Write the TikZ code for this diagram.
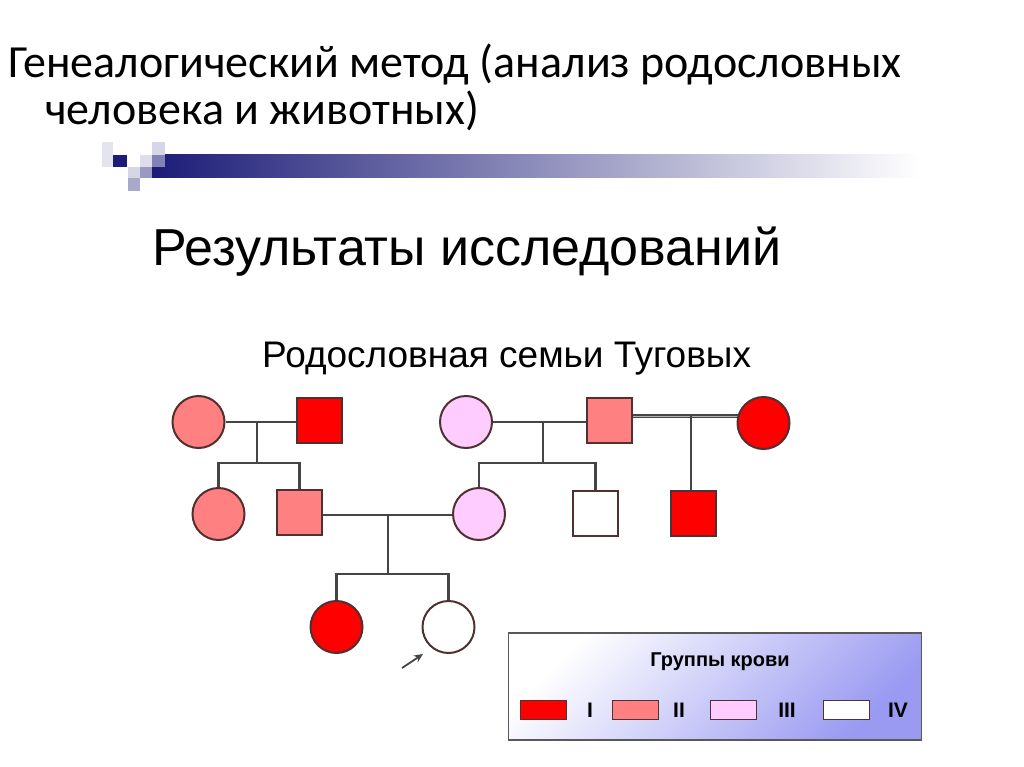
\documentclass[tikz,border=0pt]{standalone}
\usepackage{fontspec}
\setmainfont{Liberation Sans}
\newfontfamily\calibri{Carlito}
\usepackage{tikz}
\usetikzlibrary{arrows.meta, positioning, backgrounds}
\usepackage{xcolor}

\definecolor{gred}{HTML}{FF0000}
\definecolor{gpink}{HTML}{FF8080}
\definecolor{glilac}{HTML}{FFCCFF}
\definecolor{edgecol}{HTML}{503030}
\definecolor{linegray}{HTML}{454545}
\definecolor{navy}{HTML}{1C1C78}
\definecolor{legendblue}{HTML}{9A9AF2}

\begin{document}
\begin{tikzpicture}[x=1pt, y=-1pt,
  female/.style={circle, draw=edgecol, line width=2pt, minimum size=52pt, inner sep=0pt},
  male/.style={rectangle, draw=edgecol, line width=2pt, minimum size=45pt, inner sep=0pt},
  link/.style={draw=linegray, line width=2.5pt},
  marriage/.style={draw=linegray, line width=1.6pt, double=black!30, double distance=1pt},
  key/.style={rectangle, draw=edgecol, line width=1.6pt, minimum width=46pt, minimum height=19pt, inner sep=0pt},
  numeral/.style={font=\bfseries\fontsize{21}{21}\selectfont, inner sep=0pt},
  pointer/.style={-{Stealth[length=9pt, width=8pt]}, line width=1.8pt, draw=linegray}
]
  \useasboundingbox (0,0) rectangle (1024,767);

  % Heading
  \node[anchor=base west, inner sep=0pt, font=\calibri\fontsize{46}{46}\selectfont] (head1) at (8,78) {Генеалогический метод (анализ родословных};
  \node[anchor=base west, inner sep=0pt, font=\calibri\fontsize{46}{46}\selectfont] (head2) at (45,125) {человека и животных)};

  % Decoration bar
  \shade[left color=navy, right color=white] (152,155) rectangle (920,178);
  \fill[navy!12] (102,142) rectangle (113,167);
  \fill[navy] (113,155) rectangle (127,167);
  \fill[navy!18] (152,142) rectangle (165,155);
  \fill[navy!15] (140,155) rectangle (152,167);
  \fill[navy!55] (152,155) rectangle (165,167);
  \fill[navy!18] (128,167) rectangle (140,178);
  \fill[navy!45] (140,167) rectangle (152,178);
  \fill[navy!38] (128,178) rectangle (140,191);

  % Titles
  \node[anchor=base west, inner sep=0pt, font=\fontsize{52}{52}\selectfont] (res) at (152,265) {Результаты исследований};
  \node[anchor=base west, inner sep=0pt, font=\fontsize{37}{37}\selectfont] (ped) at (262,367) {Родословная семьи Туговых};

  % Generation I
  \node[female, fill=gpink] (w1) at (198.5,422) {};
  \node[male, fill=gred] (h1) at (319.5,420) {};
  \node[female, fill=glilac] (w2) at (466,422) {};
  \node[male, fill=gpink] (h2) at (609.5,420) {};
  \node[female, fill=gred] (w3) at (763.5,423) {};

  % Generation II
  \node[female, fill=gpink] (d1) at (218.5,514) {};
  \node[male, fill=gpink] (s1) at (299.5,512) {};
  \node[female, fill=glilac] (d2) at (479,514) {};
  \node[male, fill=white] (s2) at (595.5,513) {};
  \node[male, fill=gred] (s3) at (693,513) {};

  % Generation III
  \node[female, fill=gred] (g1) at (336.5,627) {};
  \node[female, fill=white] (g2) at (448.5,627) {};

  \coordinate (c1) at (257,422);
  \coordinate (sib1) at (257,463);
  \coordinate (c2) at (543,422);
  \coordinate (sib2) at (543,463);
  \coordinate (c3) at (691,416);
  \coordinate (c4) at (388,515);
  \coordinate (sib3) at (388,574);
  \coordinate (ptr) at (402,668);

  \begin{scope}[on background layer]
    \draw[link] (w1) -- (w1 -| h1);
    \draw[link] (c1) -- (sib1);
    \draw[link] (d1.north) |- (sib1) -| (s1.north);
    \draw[link] (w2) -- (w2 -| h2);
    \draw[link] (c2) -- (sib2);
    \draw[link] (d2.north) |- (sib2) -| (s2.north);
    \draw[marriage] (h2.center |- c3) -- (w3.center |- c3);
    \draw[link] (c3) -- (c3 |- s3.north);
    \draw[link] (c4 -| s1) -- (c4 -| d2);
    \draw[link] (c4) -- (sib3);
    \draw[link] (g1.north) |- (sib3) -| (g2.north);
  \end{scope}

  \draw[pointer] (ptr) -- +(21,-14);

  % Legend
  \node[rectangle, draw=black!65, line width=1.8pt, top color=white, bottom color=legendblue, shading angle=45, minimum width=413pt, minimum height=107pt, inner sep=0pt] (legend) at (715,686.5) {};
  \node[font=\bfseries\fontsize{20}{20}\selectfont, inner sep=0pt, anchor=base] (ltitle) at (720,666) {Группы крови};
  \node[key, fill=gred] (k1) at (543.5,710) {};
  \node[numeral] (n1) at (590,710) {I};
  \node[key, fill=gpink] (k2) at (635.5,710) {};
  \node[numeral] (n2) at (679,710) {II};
  \node[key, fill=glilac] (k3) at (733.5,710) {};
  \node[numeral] (n3) at (787,710) {III};
  \node[key, fill=white] (k4) at (846.5,710) {};
  \node[numeral] (n4) at (898,710) {IV};
\end{tikzpicture}
\end{document}
